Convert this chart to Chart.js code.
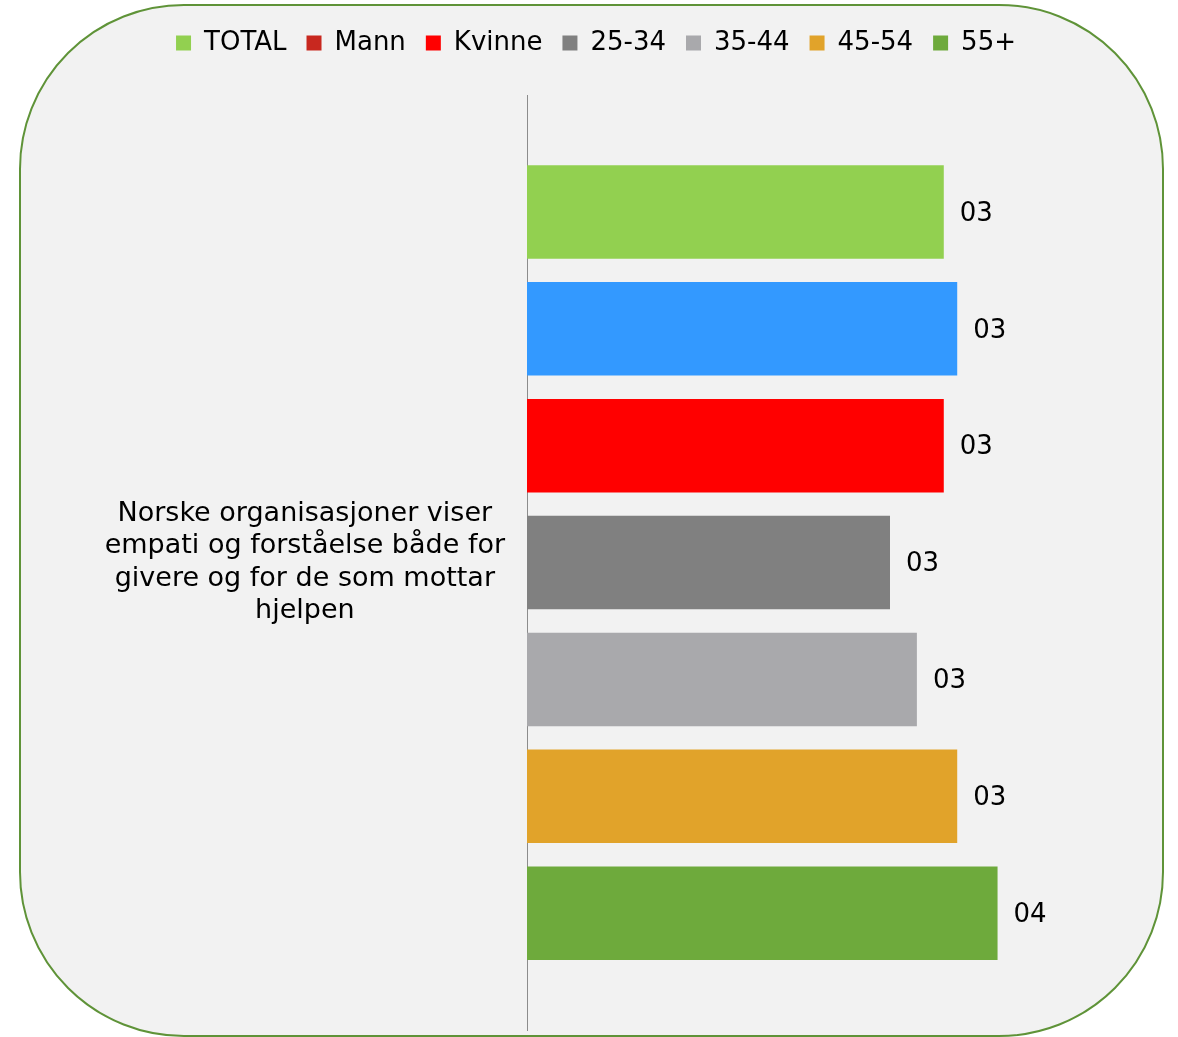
<!DOCTYPE html>
<html>
<head>
<meta charset="utf-8">
<script src="https://cdn.jsdelivr.net/npm/chart.js@4/dist/chart.umd.min.js"></script>
<style>
  html, body { margin: 0; padding: 0; background: #fff; overflow: hidden; }
  #frame {
    position: absolute; left: 19px; top: 4px; width: 1145px; height: 1033px;
    box-sizing: border-box; border: 2.5px solid #5f9338; border-radius: 165px;
    background: #f2f2f2;
  }
  #chart { position: absolute; left: 0; top: 0; }
</style>
</head>
<body>
<div id="frame"></div>
<canvas id="chart" width="1178" height="1037"></canvas>
<script>
// data
var categories = [['Norske organisasjoner viser', 'empati og forståelse både for', 'givere og for de som mottar', 'hjelpen']];
var seriesNames = ['TOTAL', 'Mann', 'Kvinne', '25-34', '35-44', '45-54', '55+'];
var seriesValues = [3.1, 3.2, 3.1, 2.7, 2.9, 3.2, 3.5];

// colours (the legend swatch for Mann differs from its bar in the original)
var barColors = ['#92d050', '#3399ff', '#ff0000', '#808080', '#a9a9ac', '#e1a32a', '#6eaa3c'];
var legendColors = ['#92d050', '#c8281f', '#ff0000', '#808080', '#a9a9ac', '#e1a32a', '#6eaa3c'];

Chart.defaults.font.family = '"DejaVu Sans", Verdana, sans-serif';
Chart.defaults.color = '#000';

var datasets = seriesNames.map(function (name, i) {
    return {
        label: name,
        data: [seriesValues[i]],
        backgroundColor: barColors[i],
        categoryPercentage: 0.875,
        barPercentage: 0.8
    };
});

// bar value labels, Excel "00" style
var valueLabels = {
    id: 'valueLabels',
    afterDatasetsDraw: function (chart) {
        var ctx = chart.ctx;
        ctx.save();
        ctx.font = '26px "DejaVu Sans"';
        ctx.fillStyle = '#000';
        ctx.textAlign = 'left';
        ctx.textBaseline = 'middle';
        chart.data.datasets.forEach(function (ds, i) {
            chart.getDatasetMeta(i).data.forEach(function (bar, j) {
                var txt = String(Math.round(ds.data[j])).padStart(2, '0');
                ctx.fillText(txt, bar.x + 16, bar.y + 2);
            });
        });
        ctx.restore();
    }
};

// extra space under the legend
var legendGap = {
    id: 'legendGap',
    beforeInit: function (chart) {
        var fit = chart.legend.fit;
        chart.legend.fit = function () {
            fit.call(this);
            this.height += 29;
        };
    }
};

var ctx = document.getElementById('chart');
var myChart = new Chart(ctx, {
    type: 'bar',
    data: {
        labels: categories,
        datasets: datasets
    },
    options: {
        indexAxis: 'y',
        responsive: false,
        animation: false,
        devicePixelRatio: 1,
        layout: {
            padding: { left: 60, right: 46, top: 10, bottom: 7 }
        },
        scales: {
            x: {
                display: false,
                min: 0,
                max: 4.5
            },
            y: {
                grid: { display: false, drawTicks: false },
                border: { display: true, color: '#8c8c8c', width: 1 },
                ticks: {
                    crossAlign: 'center',
                    padding: 22,
                    font: { size: 27, lineHeight: 1.2 }
                },
                afterFit: function (scale) {
                    scale.width = 467;
                    scale.paddingTop = 0;
                    scale.paddingBottom = 0;
                }
            }
        },
        plugins: {
            legend: {
                position: 'top',
                labels: {
                    boxWidth: 15,
                    boxHeight: 15,
                    padding: 20,
                    font: { size: 26 },
                    generateLabels: function (chart) {
                        var items = Chart.defaults.plugins.legend.labels.generateLabels(chart);
                        items.forEach(function (item, i) {
                            item.fillStyle = legendColors[i];
                            item.strokeStyle = legendColors[i];
                            item.lineWidth = 0;
                        });
                        return items;
                    }
                }
            },
            tooltip: { enabled: false }
        }
    },
    plugins: [valueLabels, legendGap]
});
</script>
</body>
</html>
